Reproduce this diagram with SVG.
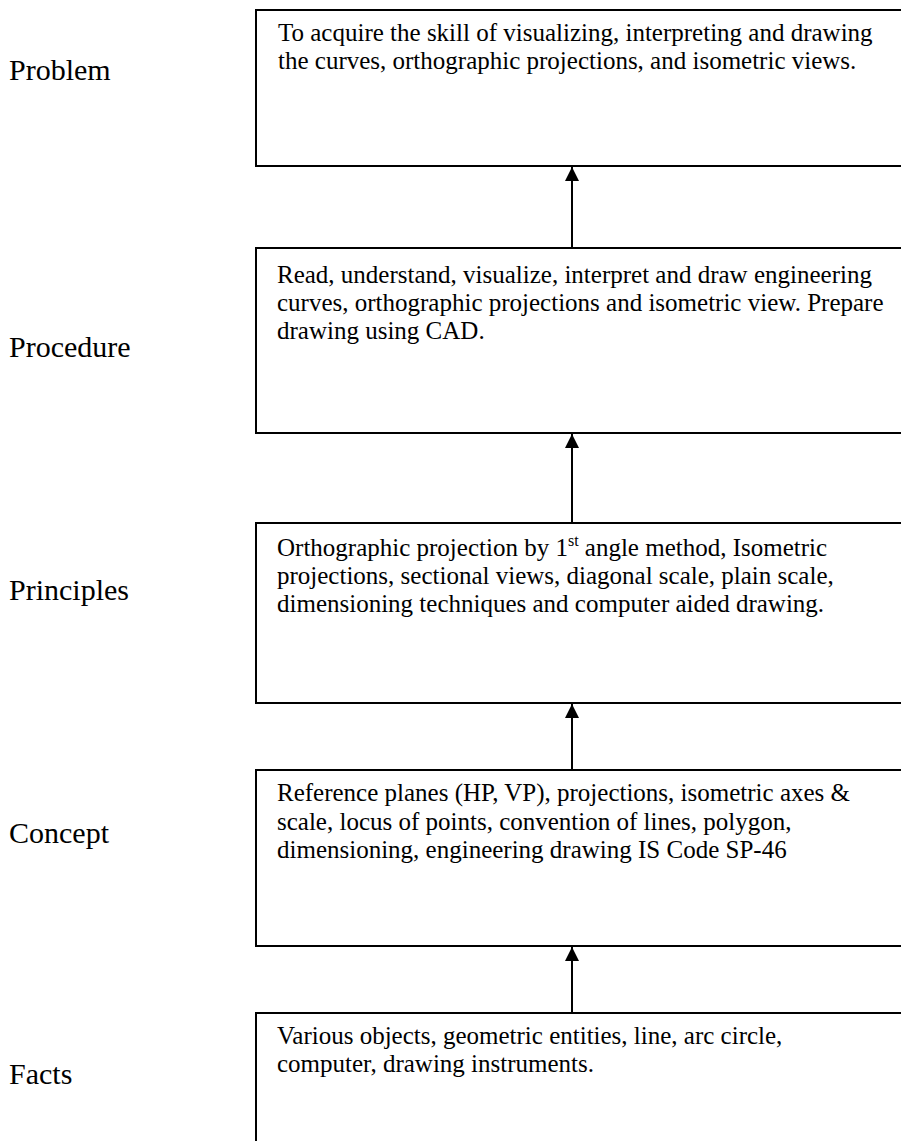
<svg xmlns="http://www.w3.org/2000/svg" width="901" height="1141" viewBox="0 0 901 1141">
<defs>
<style>
.box{fill:#fff;stroke:#000;stroke-width:2}
.t{font-family:"Liberation Serif","Times New Roman",serif;font-size:25px;fill:#000}
.lbl{font-family:"Liberation Serif","Times New Roman",serif;font-size:30px;fill:#000}
.conn{stroke:#000;stroke-width:2;fill:none}
</style>
<marker id="ah" markerWidth="14" markerHeight="14" viewBox="0 0 14 14" refX="14" refY="7" orient="auto" markerUnits="userSpaceOnUse">
<path d="M0,0 L14,7 L0,14 z" fill="#000"/>
</marker>
</defs>
<rect width="901" height="1141" fill="#fff"/>
<g id="labels">
<text class="lbl" x="9" y="80">Problem</text>
<text class="lbl" x="9" y="357">Procedure</text>
<text class="lbl" x="9" y="600">Principles</text>
<text class="lbl" x="9" y="843">Concept</text>
<text class="lbl" x="9" y="1084">Facts</text>
</g>
<g id="connectors">
<line class="conn" x1="572" y1="248" x2="572" y2="167" marker-end="url(#ah)"/>
<line class="conn" x1="572" y1="523" x2="572" y2="434" marker-end="url(#ah)"/>
<line class="conn" x1="572" y1="770" x2="572" y2="704" marker-end="url(#ah)"/>
<line class="conn" x1="572" y1="1013" x2="572" y2="947" marker-end="url(#ah)"/>
</g>
<g id="problem">
<rect class="box" x="256" y="10" width="700" height="156"/>
<text class="t" x="278" y="41">To acquire the skill of visualizing, interpreting and drawing</text>
<text class="t" x="278" y="69">the curves, orthographic projections, and isometric views.</text>
</g>
<g id="procedure">
<rect class="box" x="256" y="248" width="700" height="185"/>
<text class="t" x="277" y="283">Read, understand, visualize, interpret and draw engineering</text>
<text class="t" x="277" y="311">curves, orthographic projections and isometric view. Prepare</text>
<text class="t" x="277" y="339">drawing using CAD.</text>
</g>
<g id="principles">
<rect class="box" x="256" y="523" width="700" height="180"/>
<text class="t" x="277" y="556">Orthographic projection by 1<tspan font-size="16" dy="-10">st</tspan><tspan dy="10"> angle method, Isometric</tspan></text>
<text class="t" x="277" y="584">projections, sectional views, diagonal scale, plain scale,</text>
<text class="t" x="277" y="612">dimensioning techniques and computer aided drawing.</text>
</g>
<g id="concept">
<rect class="box" x="256" y="770" width="700" height="176"/>
<text class="t" x="277" y="801">Reference planes (HP, VP), projections, isometric axes &amp;</text>
<text class="t" x="277" y="830">scale, locus of points, convention of lines, polygon,</text>
<text class="t" x="277" y="858">dimensioning, engineering drawing IS Code SP-46</text>
</g>
<g id="facts">
<rect class="box" x="256" y="1013" width="700" height="200"/>
<text class="t" x="277" y="1044">Various objects, geometric entities, line, arc circle,</text>
<text class="t" x="277" y="1072">computer, drawing instruments.</text>
</g>
</svg>
